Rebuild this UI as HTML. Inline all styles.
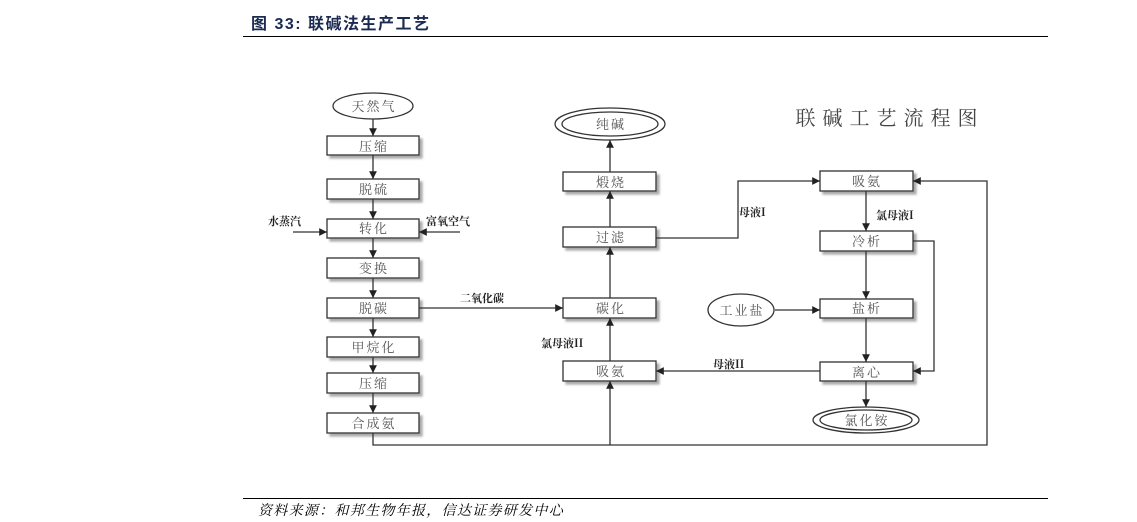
<!DOCTYPE html>
<html><head><meta charset="utf-8"><style>
body{margin:0;width:1137px;height:522px;background:#fff;overflow:hidden;font-family:"Liberation Sans","Noto Sans CJK SC",sans-serif;}
.h{position:absolute;left:251px;top:10px;font-size:16px;font-weight:bold;color:#1a2a50;letter-spacing:1.5px;}
.f{position:absolute;left:258px;top:500px;font-size:14px;font-style:italic;color:#000;font-family:"Liberation Serif","Noto Serif CJK SC",serif;letter-spacing:1.3px;}
.ln{position:absolute;left:243px;width:805px;height:1px;background:#000;}
</style></head><body>
<div class="h">图 33:  联碱法生产工艺</div>
<div class="ln" style="top:36px"></div>
<div class="ln" style="top:498px"></div>
<div class="f">资料来源：和邦生物年报，信达证券研发中心</div>
<svg width="1137" height="522" style="position:absolute;left:0;top:0" font-family="Noto Serif CJK SC, serif">
<defs>
<marker id="a" markerWidth="6" markerHeight="6" refX="6" refY="3" orient="auto"><path d="M0,0L6,3L0,6z" fill="#222"/></marker>
<filter id="s"><feDropShadow dx="3" dy="3" stdDeviation="1" flood-color="#aaa"/></filter>
</defs>
<g stroke="#333" stroke-width="1.3" fill="none">
<ellipse cx="373" cy="106" rx="40" ry="13"/>
<ellipse cx="610" cy="124" rx="55" ry="16"/><ellipse cx="610" cy="124" rx="48" ry="12"/>
<ellipse cx="866" cy="420" rx="53" ry="13"/><ellipse cx="866" cy="420" rx="46" ry="10"/>
<ellipse cx="741" cy="310" rx="33" ry="16"/>
</g>
<g fill="#fff" stroke="#333" stroke-width="1.3" filter="url(#s)">
<rect x="327" y="136" width="92" height="19"/><rect x="327" y="179" width="92" height="20"/>
<rect x="327" y="219" width="92" height="19"/><rect x="327" y="258" width="92" height="20"/>
<rect x="327" y="298" width="92" height="20"/><rect x="327" y="337" width="92" height="20"/>
<rect x="327" y="373" width="92" height="20"/><rect x="327" y="413" width="92" height="20"/>
<rect x="563" y="172" width="93" height="19"/><rect x="563" y="227" width="93" height="20"/>
<rect x="563" y="298" width="93" height="20"/><rect x="563" y="361" width="93" height="20"/>
<rect x="820" y="171" width="93" height="20"/><rect x="820" y="231" width="93" height="20"/>
<rect x="820" y="299" width="93" height="19"/><rect x="820" y="362" width="93" height="19"/>
</g>
<g stroke="#333" stroke-width="1.3" fill="none" marker-end="url(#a)">
<path d="M373 119V136"/><path d="M373 155V179"/><path d="M373 199V219"/><path d="M373 238V258"/>
<path d="M373 278V298"/><path d="M373 318V337"/><path d="M373 357V373"/><path d="M373 393V413"/>
<path d="M293 232H327"/><path d="M460 232H419"/>
<path d="M419 308H563"/>
<path d="M610 445V381"/><path d="M610 361V318"/><path d="M610 298V247"/><path d="M610 227V191"/><path d="M610 172V140"/>
<path d="M656 238H738V181H820"/>
<path d="M866 191V231"/><path d="M866 251V299"/><path d="M866 318V362"/><path d="M866 381V407"/>
<path d="M913 241H934V371H913"/>
<path d="M775 310H820"/>
<path d="M820 371H656"/>
<path d="M373 433V445H987V181H913"/>
</g>
<g font-size="13" fill="#555" text-anchor="middle" letter-spacing="2">
<text x="374" y="111">天然气</text>
<text x="374" y="151">压缩</text><text x="374" y="194">脱硫</text><text x="374" y="233">转化</text>
<text x="374" y="273">变换</text><text x="374" y="313">脱碳</text><text x="374" y="352">甲烷化</text>
<text x="374" y="388">压缩</text><text x="374" y="428">合成氨</text>
<text x="611" y="129">纯碱</text><text x="611" y="187">煅烧</text><text x="611" y="242">过滤</text>
<text x="611" y="313">碳化</text><text x="611" y="376">吸氨</text>
<text x="867" y="186">吸氨</text><text x="867" y="246">冷析</text><text x="867" y="313">盐析</text>
<text x="867" y="377">离心</text><text x="867" y="425">氯化铵</text><text x="742" y="315">工业盐</text>
</g>
<g font-size="11" fill="#222" font-weight="bold">
<text x="268" y="225">水蒸汽</text><text x="426" y="225">富氧空气</text>
<text x="460" y="302">二氧化碳</text><text x="541" y="347">氯母液II</text>
<text x="739" y="216">母液I</text><text x="876" y="219">氯母液I</text>
<text x="713" y="368">母液II</text>
</g>
<text x="890" y="125" font-size="20" fill="#444" text-anchor="middle" letter-spacing="7">联碱工艺流程图</text>
</svg>
</body></html>
